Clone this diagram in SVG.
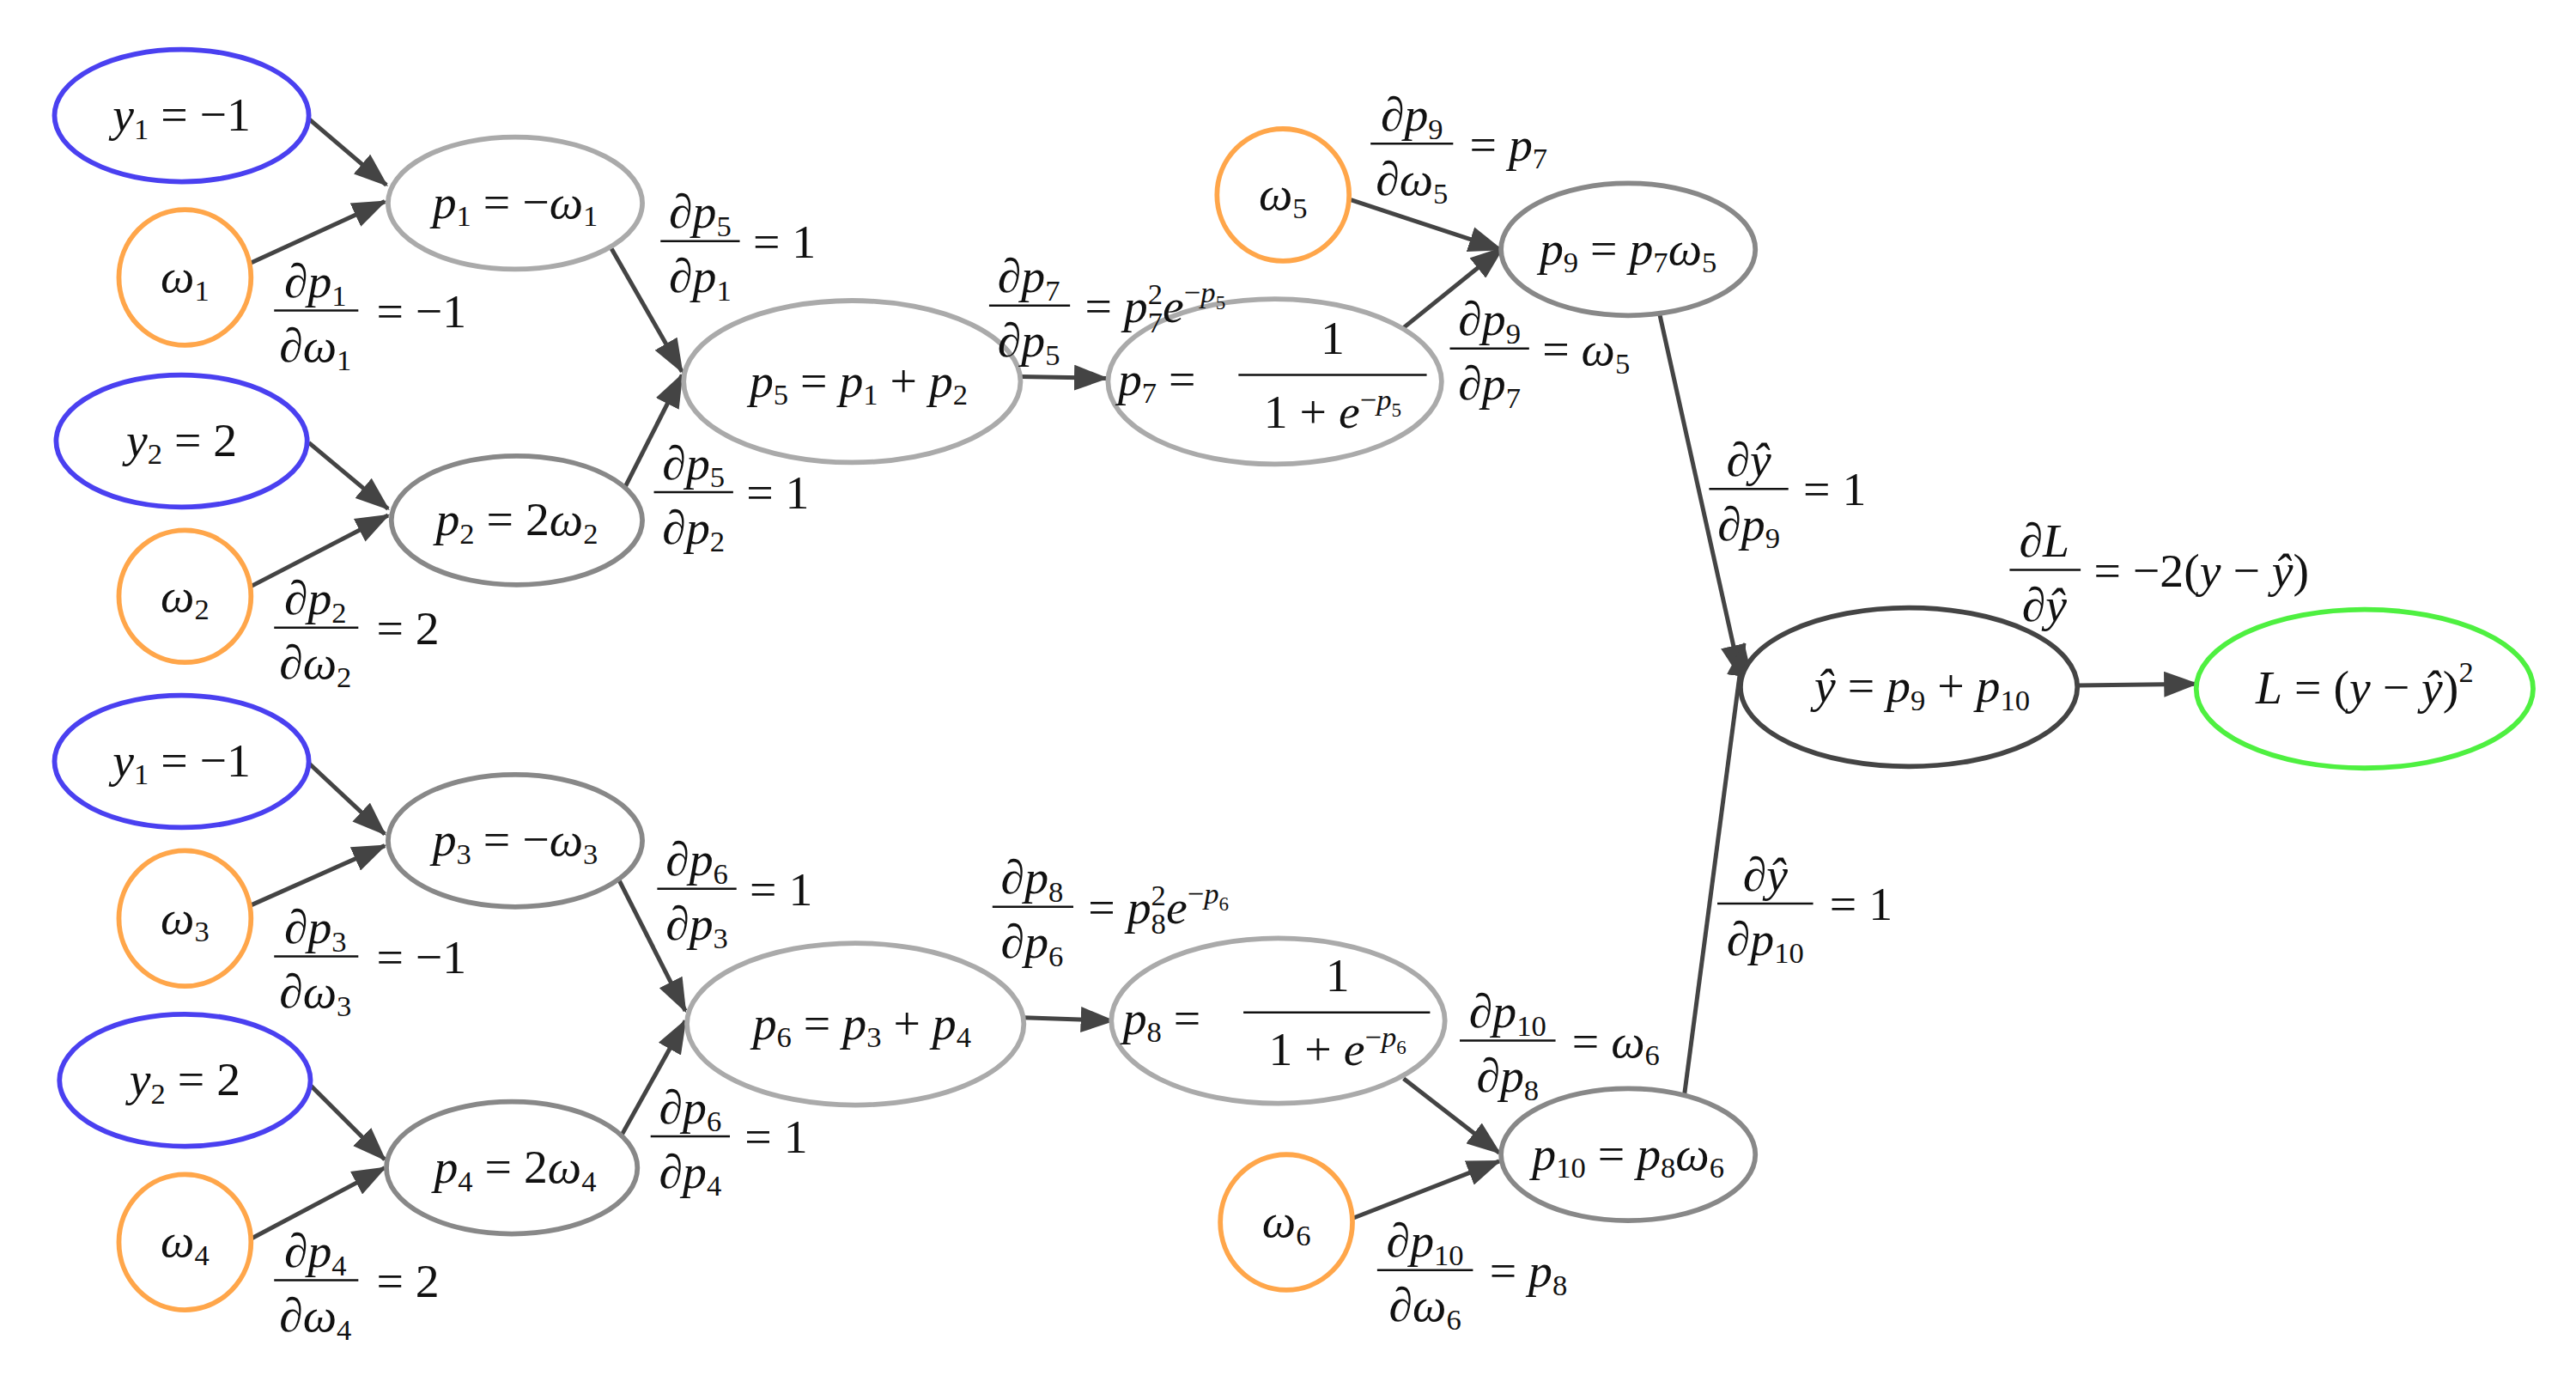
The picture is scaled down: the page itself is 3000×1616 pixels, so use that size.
<svg xmlns="http://www.w3.org/2000/svg" width="3000" height="1616" viewBox="0 0 3000 1616">
<style>
text{font-family:"Liberation Serif",serif;font-size:29px;fill:#111}
.c{text-anchor:middle}
.i{font-style:italic}
.s{font-size:18px}
.bar{stroke:#111;stroke-width:1.3}
.edge{stroke:#444;stroke-width:2.6;fill:none;marker-end:url(#ah)}
.blue{fill:#fff;stroke:#4a40f0;stroke-width:3}
.org{fill:#fff;stroke:#ffa64a;stroke-width:3}
.g1{fill:#fff;stroke:#aaa;stroke-width:3}
.g2{fill:#fff;stroke:#888;stroke-width:3}
.g3{fill:#fff;stroke:#444;stroke-width:3}
.grn{fill:#fff;stroke:#4ef040;stroke-width:3}
</style>
<defs><marker id="ah" markerWidth="8" markerHeight="6" refX="7.5" refY="3" orient="auto" markerUnits="strokeWidth"><path d="M0,0 L8,3 L0,6 Z" fill="#444"/></marker></defs>
<rect width="3000" height="1616" fill="#fff"/>
<g transform="scale(1.9231)">
<g id="connectors">
<line class="edge" x1="187" y1="72" x2="234" y2="112"/>
<line class="edge" x1="150" y1="160" x2="233" y2="122"/>
<line class="edge" x1="370" y1="150" x2="413" y2="225"/>
<line class="edge" x1="378" y1="296" x2="413" y2="227"/>
<line class="edge" x1="187" y1="268" x2="235" y2="308"/>
<line class="edge" x1="150" y1="356" x2="235" y2="312"/>
<line class="edge" x1="618" y1="228" x2="670" y2="229"/>
<line class="edge" x1="848" y1="200" x2="910" y2="150"/>
<line class="edge" x1="818" y1="121" x2="909" y2="151"/>
<line class="edge" x1="1005" y1="190" x2="1054" y2="410"/>
<line class="edge" x1="1020" y1="663" x2="1056" y2="390"/>
<line class="edge" x1="1258" y1="415" x2="1330" y2="414"/>
<line class="edge" x1="187" y1="462" x2="233" y2="505"/>
<line class="edge" x1="152" y1="548" x2="233" y2="512"/>
<line class="edge" x1="375" y1="533" x2="415" y2="612"/>
<line class="edge" x1="376" y1="688" x2="415" y2="618"/>
<line class="edge" x1="188" y1="657" x2="233" y2="702"/>
<line class="edge" x1="152" y1="750" x2="233" y2="707"/>
<line class="edge" x1="620" y1="616" x2="674" y2="618"/>
<line class="edge" x1="850" y1="653" x2="908" y2="698"/>
<line class="edge" x1="818" y1="738" x2="908" y2="703"/>
</g>
<g id="y1a"><ellipse class="blue" cx="110" cy="70" rx="77" ry="40"/><text class="c" x="110" y="79"><tspan class="i">y</tspan><tspan class="s" dy="5">1</tspan><tspan dy="-5"> = −1</tspan></text></g>
<g id="w1"><ellipse class="org" cx="112" cy="168" rx="40" ry="41"/><text class="c" x="112" y="177"><tspan class="i">ω</tspan><tspan class="s" dy="5">1</tspan></text></g>
<g id="p1"><ellipse class="g1" cx="312" cy="123" rx="77" ry="40"/><text class="c" x="312" y="132"><tspan class="i">p</tspan><tspan class="s" dy="5">1</tspan><tspan dy="-5"> = −</tspan><tspan class="i">ω</tspan><tspan class="s" dy="5">1</tspan></text></g>
<g id="y2a"><ellipse class="blue" cx="110" cy="267" rx="76" ry="40"/><text class="c" x="110" y="276"><tspan class="i">y</tspan><tspan class="s" dy="5">2</tspan><tspan dy="-5"> = 2</tspan></text></g>
<g id="w2"><ellipse class="org" cx="112" cy="361" rx="40" ry="40"/><text class="c" x="112" y="370"><tspan class="i">ω</tspan><tspan class="s" dy="5">2</tspan></text></g>
<g id="p2"><ellipse class="g2" cx="313" cy="315" rx="76" ry="39"/><text class="c" x="313" y="324"><tspan class="i">p</tspan><tspan class="s" dy="5">2</tspan><tspan dy="-5"> = 2</tspan><tspan class="i">ω</tspan><tspan class="s" dy="5">2</tspan></text></g>
<g id="p5"><ellipse class="g1" cx="516" cy="231" rx="102" ry="49"/><text class="c" x="520" y="240"><tspan class="i">p</tspan><tspan class="s" dy="5">5</tspan><tspan dy="-5"> = </tspan><tspan class="i">p</tspan><tspan class="s" dy="5">1</tspan><tspan dy="-5"> + </tspan><tspan class="i">p</tspan><tspan class="s" dy="5">2</tspan></text></g>
<g id="p7"><ellipse class="g1" cx="772" cy="231" rx="101" ry="50"/><text x="677" y="239"><tspan class="i">p</tspan><tspan class="s" dy="5">7</tspan><tspan dy="-5"> =</tspan></text><line class="bar" x1="750" y1="227" x2="864" y2="227"/><text class="c" x="807" y="214">1</text><text class="c" x="807" y="259">1 + <tspan class="i">e</tspan><tspan class="s" dy="-11">−</tspan><tspan class="s i">p</tspan><tspan style="font-size:12px" dy="4">5</tspan></text></g>
<g id="w5"><ellipse class="org" cx="777" cy="118" rx="40" ry="40"/><text class="c" x="777" y="127"><tspan class="i">ω</tspan><tspan class="s" dy="5">5</tspan></text></g>
<g id="p9"><ellipse class="g2" cx="986" cy="151" rx="77" ry="40"/><text class="c" x="986" y="160"><tspan class="i">p</tspan><tspan class="s" dy="5">9</tspan><tspan dy="-5"> = </tspan><tspan class="i">p</tspan><tspan class="s" dy="5">7</tspan><tspan class="i" dy="-5">ω</tspan><tspan class="s" dy="5">5</tspan></text></g>
<g id="yhat"><ellipse class="g3" cx="1156" cy="416" rx="102" ry="48"/><text class="c" x="1164" y="425"><tspan class="i">ŷ</tspan> = <tspan class="i">p</tspan><tspan class="s" dy="5">9</tspan><tspan dy="-5"> + </tspan><tspan class="i">p</tspan><tspan class="s" dy="5">10</tspan></text></g>
<g id="L"><ellipse class="grn" cx="1432" cy="417" rx="102" ry="48"/><text class="c" x="1432" y="426"><tspan class="i">L</tspan> = (<tspan class="i">y</tspan> − <tspan class="i">ŷ</tspan>)<tspan class="s" dy="-13">2</tspan></text></g>
<g id="y1b"><ellipse class="blue" cx="110" cy="461" rx="77" ry="40"/><text class="c" x="110" y="470"><tspan class="i">y</tspan><tspan class="s" dy="5">1</tspan><tspan dy="-5"> = −1</tspan></text></g>
<g id="w3"><ellipse class="org" cx="112" cy="556" rx="40" ry="41"/><text class="c" x="112" y="565"><tspan class="i">ω</tspan><tspan class="s" dy="5">3</tspan></text></g>
<g id="p3"><ellipse class="g2" cx="312" cy="509" rx="77" ry="40"/><text class="c" x="312" y="518"><tspan class="i">p</tspan><tspan class="s" dy="5">3</tspan><tspan dy="-5"> = −</tspan><tspan class="i">ω</tspan><tspan class="s" dy="5">3</tspan></text></g>
<g id="y2b"><ellipse class="blue" cx="112" cy="654" rx="76" ry="40"/><text class="c" x="112" y="663"><tspan class="i">y</tspan><tspan class="s" dy="5">2</tspan><tspan dy="-5"> = 2</tspan></text></g>
<g id="w4"><ellipse class="org" cx="112" cy="752" rx="40" ry="41"/><text class="c" x="112" y="761"><tspan class="i">ω</tspan><tspan class="s" dy="5">4</tspan></text></g>
<g id="p4"><ellipse class="g2" cx="310" cy="707" rx="76" ry="40"/><text class="c" x="312" y="716"><tspan class="i">p</tspan><tspan class="s" dy="5">4</tspan><tspan dy="-5"> = 2</tspan><tspan class="i">ω</tspan><tspan class="s" dy="5">4</tspan></text></g>
<g id="p6"><ellipse class="g1" cx="518" cy="620" rx="102" ry="49"/><text class="c" x="522" y="629"><tspan class="i">p</tspan><tspan class="s" dy="5">6</tspan><tspan dy="-5"> = </tspan><tspan class="i">p</tspan><tspan class="s" dy="5">3</tspan><tspan dy="-5"> + </tspan><tspan class="i">p</tspan><tspan class="s" dy="5">4</tspan></text></g>
<g id="p8"><ellipse class="g1" cx="774" cy="618" rx="101" ry="50"/><text x="680" y="626"><tspan class="i">p</tspan><tspan class="s" dy="5">8</tspan><tspan dy="-5"> =</tspan></text><line class="bar" x1="753" y1="613" x2="866" y2="613"/><text class="c" x="810" y="600">1</text><text class="c" x="810" y="645">1 + <tspan class="i">e</tspan><tspan class="s" dy="-11">−</tspan><tspan class="s i">p</tspan><tspan style="font-size:12px" dy="4">6</tspan></text></g>
<g id="p10"><ellipse class="g2" cx="986" cy="699" rx="77" ry="40"/><text class="c" x="986" y="708"><tspan class="i">p</tspan><tspan class="s" dy="5">10</tspan><tspan dy="-5"> = </tspan><tspan class="i">p</tspan><tspan class="s" dy="5">8</tspan><tspan class="i" dy="-5">ω</tspan><tspan class="s" dy="5">6</tspan></text></g>
<g id="w6"><ellipse class="org" cx="779" cy="740" rx="40" ry="41"/><text class="c" x="779" y="749"><tspan class="i">ω</tspan><tspan class="s" dy="5">6</tspan></text></g>
<g id="labels">
<g><line class="bar" x1="166" y1="188" x2="217" y2="188"/><text class="c" x="191" y="180">∂<tspan class="i">p</tspan><tspan class="s" dy="5">1</tspan></text><text class="c" x="191" y="219">∂<tspan class="i">ω</tspan><tspan class="s" dy="5">1</tspan></text><text x="228" y="198">= −1</text></g>
<g><line class="bar" x1="400" y1="146" x2="448" y2="146"/><text class="c" x="424" y="138">∂<tspan class="i">p</tspan><tspan class="s" dy="5">5</tspan></text><text class="c" x="424" y="177">∂<tspan class="i">p</tspan><tspan class="s" dy="5">1</tspan></text><text x="456" y="156">= 1</text></g>
<g><line class="bar" x1="166" y1="380" x2="217" y2="380"/><text class="c" x="191" y="372">∂<tspan class="i">p</tspan><tspan class="s" dy="5">2</tspan></text><text class="c" x="191" y="411">∂<tspan class="i">ω</tspan><tspan class="s" dy="5">2</tspan></text><text x="228" y="390">= 2</text></g>
<g><line class="bar" x1="396" y1="298" x2="444" y2="298"/><text class="c" x="420" y="290">∂<tspan class="i">p</tspan><tspan class="s" dy="5">5</tspan></text><text class="c" x="420" y="329">∂<tspan class="i">p</tspan><tspan class="s" dy="5">2</tspan></text><text x="452" y="308">= 1</text></g>
<g><line class="bar" x1="599" y1="185" x2="648" y2="185"/><text class="c" x="623" y="177">∂<tspan class="i">p</tspan><tspan class="s" dy="5">7</tspan></text><text class="c" x="623" y="216">∂<tspan class="i">p</tspan><tspan class="s" dy="5">5</tspan></text><text x="657" y="195">= <tspan class="i">p</tspan><tspan class="s" dy="-11">2</tspan><tspan class="s" dx="-9" dy="17">7</tspan><tspan class="i" dy="-6">e</tspan><tspan class="s" dy="-12">−</tspan><tspan class="s i">p</tspan><tspan style="font-size:12px" dy="4">5</tspan></text></g>
<g><line class="bar" x1="830" y1="87" x2="880" y2="87"/><text class="c" x="855" y="79">∂<tspan class="i">p</tspan><tspan class="s" dy="5">9</tspan></text><text class="c" x="855" y="118">∂<tspan class="i">ω</tspan><tspan class="s" dy="5">5</tspan></text><text x="890" y="97">= <tspan class="i">p</tspan><tspan class="s" dy="5">7</tspan></text></g>
<g><line class="bar" x1="878" y1="211" x2="926" y2="211"/><text class="c" x="902" y="203">∂<tspan class="i">p</tspan><tspan class="s" dy="5">9</tspan></text><text class="c" x="902" y="242">∂<tspan class="i">p</tspan><tspan class="s" dy="5">7</tspan></text><text x="934" y="221">= <tspan class="i">ω</tspan><tspan class="s" dy="5">5</tspan></text></g>
<g><line class="bar" x1="1035" y1="296" x2="1083" y2="296"/><text class="c" x="1059" y="288">∂<tspan class="i">ŷ</tspan></text><text class="c" x="1059" y="327">∂<tspan class="i">p</tspan><tspan class="s" dy="5">9</tspan></text><text x="1092" y="306">= 1</text></g>
<g><line class="bar" x1="1217" y1="345" x2="1260" y2="345"/><text class="c" x="1238" y="337">∂<tspan class="i">L</tspan></text><text class="c" x="1238" y="376">∂<tspan class="i">ŷ</tspan></text><text x="1268" y="355">= −2(<tspan class="i">y</tspan> − <tspan class="i">ŷ</tspan>)</text></g>
<g><line class="bar" x1="166" y1="579" x2="217" y2="579"/><text class="c" x="191" y="571">∂<tspan class="i">p</tspan><tspan class="s" dy="5">3</tspan></text><text class="c" x="191" y="610">∂<tspan class="i">ω</tspan><tspan class="s" dy="5">3</tspan></text><text x="228" y="589">= −1</text></g>
<g><line class="bar" x1="398" y1="538" x2="446" y2="538"/><text class="c" x="422" y="530">∂<tspan class="i">p</tspan><tspan class="s" dy="5">6</tspan></text><text class="c" x="422" y="569">∂<tspan class="i">p</tspan><tspan class="s" dy="5">3</tspan></text><text x="454" y="548">= 1</text></g>
<g><line class="bar" x1="166" y1="775" x2="217" y2="775"/><text class="c" x="191" y="767">∂<tspan class="i">p</tspan><tspan class="s" dy="5">4</tspan></text><text class="c" x="191" y="806">∂<tspan class="i">ω</tspan><tspan class="s" dy="5">4</tspan></text><text x="228" y="785">= 2</text></g>
<g><line class="bar" x1="394" y1="688" x2="442" y2="688"/><text class="c" x="418" y="680">∂<tspan class="i">p</tspan><tspan class="s" dy="5">6</tspan></text><text class="c" x="418" y="719">∂<tspan class="i">p</tspan><tspan class="s" dy="5">4</tspan></text><text x="451" y="698">= 1</text></g>
<g><line class="bar" x1="601" y1="549" x2="650" y2="549"/><text class="c" x="625" y="541">∂<tspan class="i">p</tspan><tspan class="s" dy="5">8</tspan></text><text class="c" x="625" y="580">∂<tspan class="i">p</tspan><tspan class="s" dy="5">6</tspan></text><text x="659" y="559">= <tspan class="i">p</tspan><tspan class="s" dy="-11">2</tspan><tspan class="s" dx="-9" dy="17">8</tspan><tspan class="i" dy="-6">e</tspan><tspan class="s" dy="-12">−</tspan><tspan class="s i">p</tspan><tspan style="font-size:12px" dy="4">6</tspan></text></g>
<g><line class="bar" x1="884" y1="630" x2="942" y2="630"/><text class="c" x="913" y="622">∂<tspan class="i">p</tspan><tspan class="s" dy="5">10</tspan></text><text class="c" x="913" y="661">∂<tspan class="i">p</tspan><tspan class="s" dy="5">8</tspan></text><text x="952" y="640">= <tspan class="i">ω</tspan><tspan class="s" dy="5">6</tspan></text></g>
<g><line class="bar" x1="1040" y1="547" x2="1098" y2="547"/><text class="c" x="1069" y="539">∂<tspan class="i">ŷ</tspan></text><text class="c" x="1069" y="578">∂<tspan class="i">p</tspan><tspan class="s" dy="5">10</tspan></text><text x="1108" y="557">= 1</text></g>
<g><line class="bar" x1="834" y1="769" x2="892" y2="769"/><text class="c" x="863" y="761">∂<tspan class="i">p</tspan><tspan class="s" dy="5">10</tspan></text><text class="c" x="863" y="800">∂<tspan class="i">ω</tspan><tspan class="s" dy="5">6</tspan></text><text x="902" y="779">= <tspan class="i">p</tspan><tspan class="s" dy="5">8</tspan></text></g>
</g>
</g>
</svg>
